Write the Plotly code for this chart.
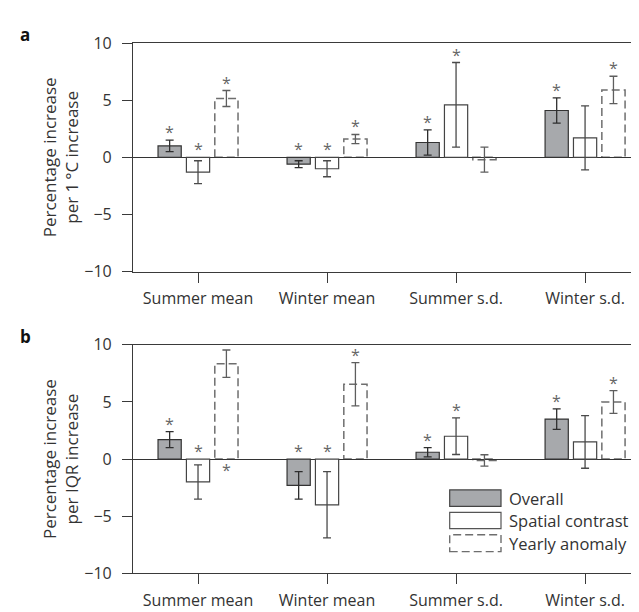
import plotly.graph_objects as go

# ---------------- data ----------------
categories = ["Summer mean", "Winter mean", "Summer s.d.", "Winter s.d."]
series_names = ["Overall", "Spatial contrast", "Yearly anomaly"]
y_tick_vals = [-10, -5, 0, 5, 10]

# panel a: percentage increase per 1 °C increase
a_overall = [1.0, -0.6, 1.3, 4.1]
a_overall_err = [0.5, 0.3, 1.1, 1.1]
a_spatial = [-1.3, -1.0, 4.6, 1.7]
a_spatial_err = [1.0, 0.7, 3.7, 2.8]
a_yearly = [5.15, 1.6, -0.2, 5.9]
a_yearly_err = [0.7, 0.4, 1.1, 1.2]
a_sig_overall = ["above", "above", "above", "above"]
a_sig_spatial = ["above", "above", "above", ""]
a_sig_yearly = ["above", "above", "", "above"]

# panel b: percentage increase per IQR increase
b_overall = [1.7, -2.3, 0.6, 3.5]
b_overall_err = [0.7, 1.2, 0.4, 0.9]
b_spatial = [-2.0, -4.0, 2.0, 1.5]
b_spatial_err = [1.5, 2.9, 1.6, 2.3]
b_yearly = [8.35, 6.55, -0.12, 5.0]
b_yearly_err = [1.2, 1.9, 0.5, 1.0]
b_sig_overall = ["above", "above", "above", "above"]
b_sig_spatial = ["above", "above", "above", ""]
b_sig_yearly = ["below", "above", "", "above"]

# ---------------- styling ----------------
W, H = 639, 612
FONT = "Open Sans"
TXT = "#333333"
AX = "#3a3a3a"
GREY_FILL = "#a7a9ac"
BAR_W = 0.18
CENTERS = [-0.22, 0.0, 0.22]
DASH = "8px,4px"

fig = go.Figure()

idx = list(range(len(categories)))


def px_y(p):
    return 1 - p / H


panels = [
    dict(x="x", y="y", top=25, bottom=262,
         vals=[a_overall, a_spatial, a_yearly],
         errs=[a_overall_err, a_spatial_err, a_yearly_err],
         sigs=[a_sig_overall, a_sig_spatial, a_sig_yearly],
         title="Percentage increase<br>per 1\u2009\u00b0C increase", letter="a"),
    dict(x="x2", y="y2", top=338, bottom=575,
         vals=[b_overall, b_spatial, b_yearly],
         errs=[b_overall_err, b_spatial_err, b_yearly_err],
         sigs=[b_sig_overall, b_sig_spatial, b_sig_yearly],
         title="Percentage increase<br>per IQR increase", letter="b"),
]

shapes = []
annotations = []
err_colors = ["#2e2e2e", "#4a4a4a", "#5e5e5e"]

for p in panels:
    for s in range(3):
        vals = p["vals"][s]
        errs = p["errs"][s]
        c = CENTERS[s]
        if s == 0:
            marker = dict(color=GREY_FILL, line=dict(color="#333333", width=1.2))
        elif s == 1:
            marker = dict(color="white", line=dict(color="#444444", width=1.2))
        else:
            marker = dict(color="rgba(0,0,0,0)", line=dict(width=0))
        fig.add_trace(go.Bar(
            x=idx, y=vals, width=BAR_W, offset=c - BAR_W / 2,
            marker=marker, name=series_names[s], showlegend=False,
            xaxis=p["x"], yaxis=p["y"],
            error_y=dict(type="data", array=errs, visible=True,
                         color=err_colors[s], thickness=1.3, width=4),
        ))
        if s == 2:
            for i, v in zip(idx, vals):
                shapes.append(dict(
                    type="rect", xref=p["x"], yref=p["y"],
                    x0=i + c - BAR_W / 2, x1=i + c + BAR_W / 2, y0=0, y1=v,
                    line=dict(color="#6e6e6e", width=1.5, dash=DASH),
                    fillcolor="rgba(0,0,0,0)", layer="below"))
        # significance asterisks
        for i, v, e, sg in zip(idx, vals, errs, p["sigs"][s]):
            if not sg:
                continue
            if sg == "above":
                yy = max(v + e, 0)
                ys = 8
            else:
                yy = 0
                ys = -11
            annotations.append(dict(
                x=i + c, y=yy, xref=p["x"], yref=p["y"], text="*",
                showarrow=False, yanchor="middle", xanchor="center", yshift=ys,
                font=dict(family=FONT, size=16, color="#666666")))
    # y title
    annotations.append(dict(
        x=52 / W, y=px_y((p["top"] + p["bottom"]) / 2), xref="paper", yref="paper",
        text=p["title"], textangle=-90, showarrow=False,
        xanchor="center", yanchor="middle",
        font=dict(family=FONT, size=17, color=TXT)))
    # panel letter
    annotations.append(dict(
        x=17 / W, y=px_y(p["top"] - 9), xref="paper", yref="paper",
        text="<b>" + p["letter"] + "</b>", showarrow=False,
        xanchor="center", yanchor="middle",
        font=dict(family=FONT, size=17, color="#111111")))

# ---------------- legend (panel b) ----------------
leg_x0, leg_x1 = 441.7, 493
leg_rows = [(488.5, 505.5), (511.7, 528.7), (535, 552.5)]
leg_styles = [
    dict(fillcolor=GREY_FILL, line=dict(color="#444444", width=1.2)),
    dict(fillcolor="white", line=dict(color="#555555", width=1.2)),
    dict(fillcolor="rgba(0,0,0,0)", line=dict(color="#6e6e6e", width=1.4, dash=DASH)),
]
for (t, b), st, name in zip(leg_rows, leg_styles, series_names):
    shapes.append(dict(type="rect", xref="paper", yref="paper",
                       x0=leg_x0 / W, x1=leg_x1 / W, y0=px_y(b), y1=px_y(t), **st))
    annotations.append(dict(
        x=499 / W, y=px_y((t + b) / 2), xref="paper", yref="paper",
        text=name, showarrow=False, xanchor="left", yanchor="middle",
        font=dict(family=FONT, size=16.5, color=TXT)))

# ---------------- axes ----------------
x_dom = [125 / W, 1.0]
xcommon = dict(
    range=[-0.504, 3.48], tickmode="array", tickvals=idx, ticktext=categories,
    ticks="outside", ticklen=10, tickwidth=1.2, tickcolor=AX,
    showline=True, linecolor=AX, linewidth=1.2, mirror=True,
    showgrid=False, zeroline=False, fixedrange=True,
    tickfont=dict(family=FONT, size=16, color=TXT), ticklabelstandoff=2,
)
ycommon = dict(
    range=[-10, 10], tickmode="array", tickvals=y_tick_vals,
    ticks="outside", ticklen=10, tickwidth=1.2, tickcolor=AX,
    showline=True, linecolor=AX, linewidth=1.2, mirror=False,
    showgrid=False, zeroline=True, zerolinecolor="#333333", zerolinewidth=1.2,
    tickfont=dict(family=FONT, size=16, color=TXT), ticklabelstandoff=7,
)

fig.update_layout(
    width=W, height=H,
    margin=dict(l=0, r=0, t=0, b=0),
    paper_bgcolor="white", plot_bgcolor="white",
    barmode="overlay", showlegend=False,
    xaxis=dict(domain=x_dom, anchor="y", **xcommon),
    yaxis=dict(domain=[px_y(262), px_y(25)], anchor="x", **ycommon),
    xaxis2=dict(domain=x_dom, anchor="y2", **xcommon),
    yaxis2=dict(domain=[px_y(575), px_y(338)], anchor="x2", **ycommon),
    shapes=shapes, annotations=annotations,
)

fig.write_html("out.html")
